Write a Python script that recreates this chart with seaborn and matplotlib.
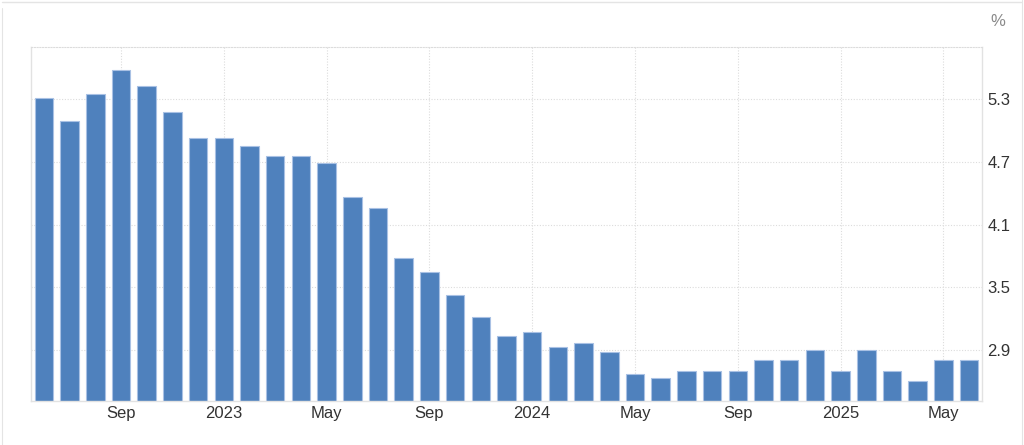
import pandas as pd
import matplotlib
matplotlib.use('Agg')
import matplotlib.pyplot as plt
import seaborn as sns
from matplotlib.lines import Line2D

# Monthly values, Jun 2022 - Jun 2025
months = pd.date_range('2022-06-01', '2025-06-01', freq='MS').strftime('%Y-%m').tolist()
values = [5.31, 5.09, 5.35, 5.58, 5.43, 5.18, 4.93, 4.93, 4.85, 4.76, 4.76, 4.69,
          4.36, 4.26, 3.78, 3.65, 3.43, 3.22, 3.03, 3.07, 2.93, 2.97, 2.88, 2.67,
          2.63, 2.70, 2.70, 2.70, 2.80, 2.80, 2.90, 2.70, 2.90, 2.70, 2.60, 2.80, 2.80]

tick_months = ['2022-09', '2023-01', '2023-05', '2023-09', '2024-01',
               '2024-05', '2024-09', '2025-01', '2025-05']
tick_labels = ['Sep', '2023', 'May', 'Sep', '2024', 'May', 'Sep', '2025', 'May']
y_ticks = [2.9, 3.5, 4.1, 4.7, 5.3]

df = pd.DataFrame({'month': months, 'value': values})

sns.set_style('white')
plt.rcParams['font.family'] = ['Liberation Sans', 'DejaVu Sans']

fig = plt.figure(figsize=(10.24, 4.45), dpi=100)
ax = fig.add_axes([31 / 1024, 1 - 400.7 / 445, (982 - 31) / 1024, (400.7 - 47) / 445])

sns.barplot(data=df, x='month', y='value', order=months, color='#4f81bd',
            saturation=1, width=0.72, edgecolor='#a9c1e4', linewidth=0.8, ax=ax)

ax.set_xlim(-0.5, len(months) - 0.5)
ax.set_ylim(2.415, 5.8)
ax.set_xlabel('')
ax.set_ylabel('')

ax.set_xticks([months.index(m) for m in tick_months])
ax.set_xticklabels(tick_labels)
ax.set_yticks(y_ticks)
ax.set_yticklabels([f'{v:.1f}' for v in y_ticks])
ax.yaxis.tick_right()
ax.tick_params(axis='both', length=0, labelsize=12, colors='#333333')
ax.tick_params(axis='x', pad=3.5)
ax.tick_params(axis='y', pad=3.8)

ax.grid(True, linestyle=(0, (1, 1.5)), color='#dcdcdc', linewidth=0.8)
ax.set_axisbelow(True)

for side in ['left', 'right', 'bottom']:
    ax.spines[side].set_color('#e2e2e2')
    ax.spines[side].set_linewidth(1)
ax.spines['top'].set_color('#dcdcdc')
ax.spines['top'].set_linestyle((0, (1, 1.5)))
ax.spines['top'].set_linewidth(0.8)

fig.text(998 / 1024, 1 - 22 / 445, '%', color='#8a8a8a', fontsize=12,
         ha='center', va='center')

# light card border
border = '#e4e4e4'
fig.add_artist(Line2D([2 / 1024, 1021 / 1024], [1 - 1.5 / 445] * 2, color=border, lw=1))
fig.add_artist(Line2D([1.5 / 1024] * 2, [0, 1 - 8 / 445], color=border, lw=0.8))
fig.add_artist(Line2D([1022 / 1024] * 2, [0, 1], color=border, lw=0.8))

fig.savefig('out.png', dpi=100)
